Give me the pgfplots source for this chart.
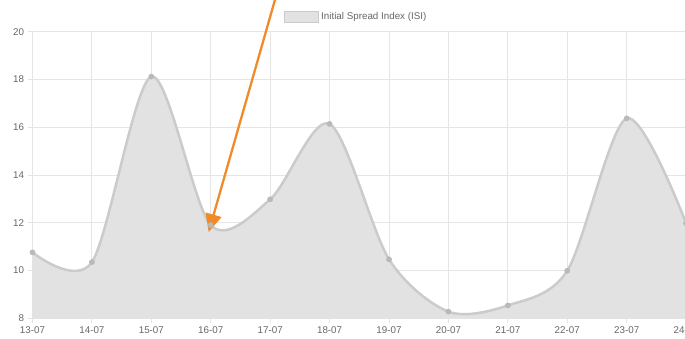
\documentclass[border=0pt]{standalone}
\usepackage{fontspec}
\setmainfont{Liberation Sans}
\usepackage{pgfplots}
\usepackage{pgfplotstable}
\pgfplotsset{compat=1.18}
\usetikzlibrary{arrows.meta}

\definecolor{gridc}{RGB}{229,229,229}
\definecolor{areafill}{RGB}{226,226,226}
\definecolor{arealine}{RGB}{203,203,203}
\definecolor{markc}{RGB}{185,185,185}
\definecolor{labelc}{RGB}{102,102,102}
\definecolor{arrowc}{RGB}{240,138,42}

% ISI per day, 13-07 .. 24-07
\pgfplotstableread{
x y
0  10.76
1  10.35
2  18.12
3  11.90
4  12.98
5  16.14
6  10.47
7  8.28
8  8.54
9  9.99
10 16.37
11 11.98
}\isi

\begin{document}
\begin{tikzpicture}[font=\fontsize{9.8}{12}\selectfont]
\begin{axis}[
    at={(0,0)}, anchor=south west,
    scale only axis,
    width=653.6pt, height=286.6pt,
    xmin=0, xmax=11, ymin=8, ymax=20,
    xtick={0,...,11},
    xticklabels={13-07,14-07,15-07,16-07,17-07,18-07,19-07,20-07,21-07,22-07,23-07,24-07},
    ytick={8,10,...,20},
    xtick pos=bottom, ytick pos=left,
    tick align=outside, major tick length=5pt,
    grid=major,
    grid style={draw=gridc, line width=1pt},
    axis line style={draw=gridc, line width=1pt},
    tick style={draw=gridc, line width=1pt},
    ticklabel style={font=\fontsize{9.8}{12}\selectfont, text=labelc},
    /pgf/number format/assume math mode=true,
    clip=false,
    legend style={at={(0.5,1)}, anchor=center, yshift=14.7pt, xshift=-3pt,
        draw=none, fill=none, text=labelc,
        font=\fontsize{9.8}{12}\selectfont},
    legend image code/.code={
        \draw[fill=areafill, draw=arealine, line width=1pt] (-4pt,-5pt) rectangle (30pt,6pt);},
]
\addplot[draw=none, fill=areafill, smooth, tension=0.5]
    table[x=x, y=y]{\isi} \closedcycle;
\addlegendentry{Initial Spread Index (ISI)}
\addplot[forget plot, arealine, line width=2.5pt, smooth, tension=0.5,
    mark=*, mark size=2.6pt, mark options={fill=markc, draw=markc, line width=0.5pt}]
    table[x=x, y=y]{\isi};
\draw[arrowc, line width=2.3pt, -{Triangle[length=18pt, width=16pt]}]
    (axis cs:4.10,21.5) -- (axis cs:2.965,11.61);
\end{axis}
\pgfresetboundingbox
\path[use as bounding box] (-32.5pt,-19.7pt) rectangle (652.5pt,318.3pt);
\end{tikzpicture}
\end{document}
